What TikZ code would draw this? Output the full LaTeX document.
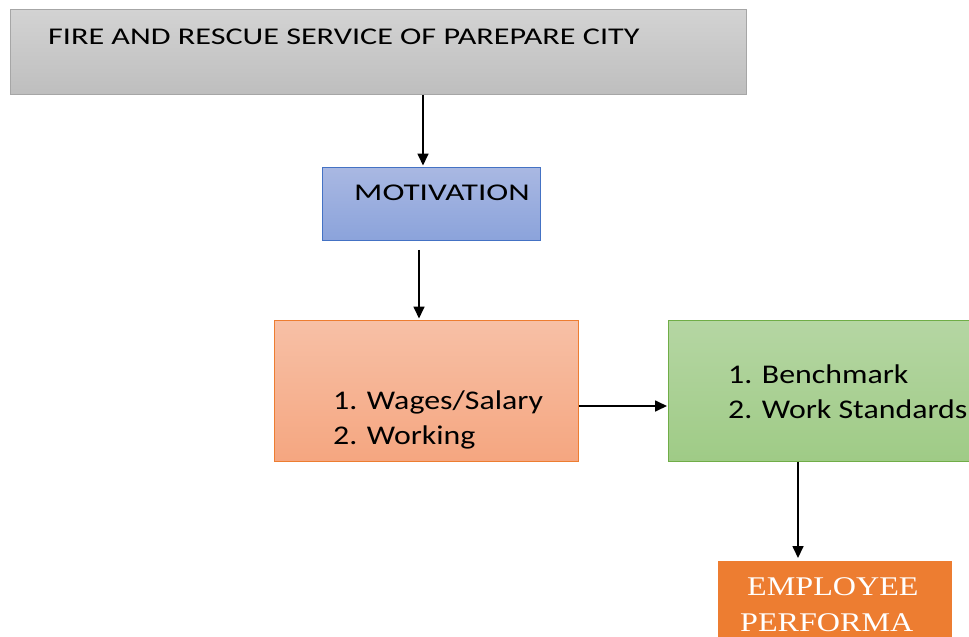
\documentclass[tikz,border=0pt]{standalone}
\usepackage{fontspec}
\usepackage{graphicx}
\setmainfont{Carlito}
\newfontfamily\serifface{Liberation Serif}
\usetikzlibrary{arrows.meta}
\definecolor{greyline}{HTML}{A6A6A6}
\definecolor{greytop}{HTML}{D3D3D3}
\definecolor{greybot}{HTML}{BEBEBE}
\definecolor{blueline}{HTML}{4472C4}
\definecolor{bluetop}{HTML}{A9B8E2}
\definecolor{bluebot}{HTML}{8BA3DB}
\definecolor{orangeline}{HTML}{ED7D31}
\definecolor{orangetop}{HTML}{F7C0A6}
\definecolor{orangebot}{HTML}{F5A680}
\definecolor{greenline}{HTML}{70AD47}
\definecolor{greentop}{HTML}{B5D6A3}
\definecolor{greenbot}{HTML}{9FCB86}
\definecolor{perfill}{HTML}{ED7D31}
\newcommand{\widetext}[2][1.2]{\scalebox{#1}[1]{#2}}
\tikzset{
  box/.style={draw, line width=0.8pt, inner sep=0pt, anchor=north west},
  label text/.style={anchor=base west, inner sep=0pt, text=black},
  arr/.style={-{Triangle[length=12pt,width=11pt]}, line width=1.7pt, black},
}
\begin{document}
\begin{tikzpicture}[x=1pt,y=-1pt]
\useasboundingbox (0,0) rectangle (969,637);
\clip (0,0) rectangle (969,637);

% boxes
\node[box, draw=greyline, top color=greytop, bottom color=greybot,
      minimum width=736pt, minimum height=85pt] (org) at (10,9) {};
\node[box, draw=blueline, top color=bluetop, bottom color=bluebot,
      minimum width=218pt, minimum height=73pt] (mot) at (322,167) {};
\node[box, draw=orangeline, top color=orangetop, bottom color=orangebot,
      minimum width=304pt, minimum height=141pt] (fac) at (274,320) {};
\node[box, draw=greenline, top color=greentop, bottom color=greenbot,
      minimum width=330pt, minimum height=141pt] (ind) at (668,320) {};
\node[box, draw=none, fill=perfill,
      minimum width=234pt, minimum height=90pt] (perf) at (718,561) {};

% texts
\node[label text, font=\fontsize{24}{26}\selectfont] (orgtxt) at (48,44)
  {\widetext[1.34]{FIRE AND RESCUE SERVICE OF PAREPARE CITY}};
\node[label text, font=\fontsize{24}{28}\selectfont] (mottxt) at (354,200)
  {\widetext[1.38]{MOTIVATION}};
\node[label text, font=\fontsize{27}{30}\selectfont] (factxt1) at (333,409)
  {\widetext[1.18]{1. Wages/Salary}};
\node[label text, font=\fontsize{27}{30}\selectfont] (factxt2) at (333,444)
  {\widetext[1.18]{2. Working}};
\node[label text, font=\fontsize{27}{30}\selectfont] (indtxt1) at (728,383)
  {\widetext[1.18]{1. Benchmark}};
\node[label text, font=\fontsize{27}{30}\selectfont] (indtxt2) at (728,418)
  {\widetext[1.18]{2. Work Standards}};
\node[label text, text=white, font=\serifface\fontsize{27}{30}\selectfont] (perftxt1) at (747,595)
  {\widetext[1.19]{EMPLOYEE}};
\node[label text, text=white, font=\serifface\fontsize{27}{30}\selectfont] (perftxt2) at (740,631)
  {\widetext[1.19]{PERFORMA}};

% connectors
\coordinate (c1) at (423,0);
\coordinate (c2) at (419,0);
\coordinate (c3) at (0,406);
\coordinate (c4) at (798,0);
\draw[arr, shorten >=1.5pt] (org.south -| c1) -- (mot.north -| c1);
\draw[arr, shorten <=9pt, shorten >=1.5pt] (mot.south -| c2) -- (fac.north -| c2);
\draw[arr, shorten >=1pt] (fac.east |- c3) -- (ind.west |- c3);
\draw[arr, shorten >=3pt] (ind.south -| c4) -- (perf.north -| c4);
\end{tikzpicture}
\end{document}
